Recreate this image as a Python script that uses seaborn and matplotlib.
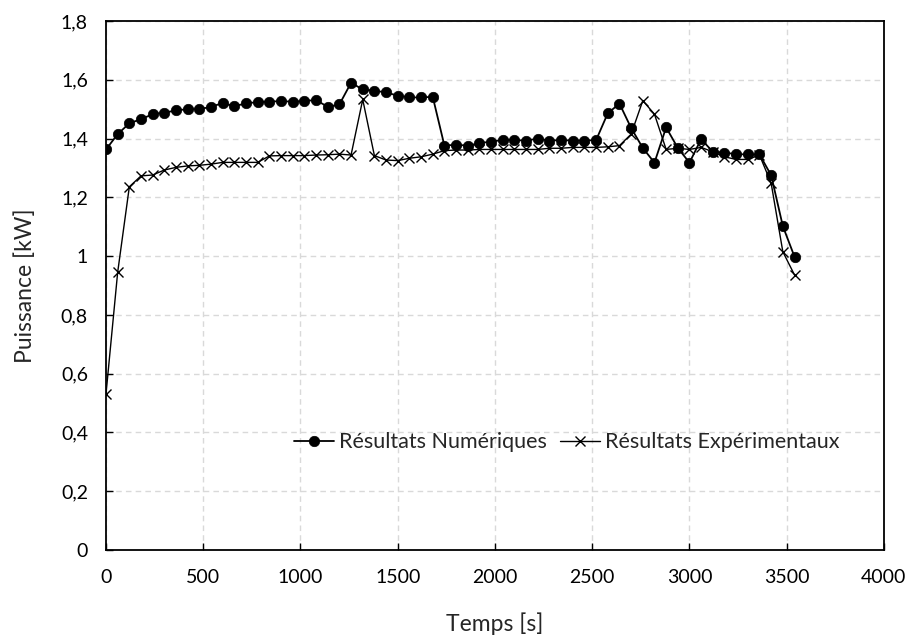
#!/usr/bin/env python3
"""
Puissance numérique vs expérimentale en fonction du temps.
Writes out.png (913x639).
"""

import matplotlib
matplotlib.use('Agg')
import matplotlib.pyplot as plt
from matplotlib.ticker import FuncFormatter, MultipleLocator
import seaborn as sns
import numpy as np

# time axis: one sample every 60 s, 0 .. 3540 s
temps = list(range(0, 3541, 60))

puissance_num = [
    1.363, 1.415, 1.452, 1.466, 1.483, 1.488, 1.496, 1.500, 1.500, 1.508,
    1.521, 1.510, 1.520, 1.524, 1.525, 1.528, 1.525, 1.528, 1.531, 1.508,
    1.516, 1.590, 1.567, 1.563, 1.557, 1.546, 1.540, 1.540, 1.542, 1.376,
    1.379, 1.376, 1.384, 1.390, 1.395, 1.395, 1.393, 1.400, 1.393, 1.395,
    1.393, 1.393, 1.395, 1.486, 1.519, 1.436, 1.368, 1.318, 1.438, 1.368,
    1.318, 1.398, 1.355, 1.352, 1.347, 1.346, 1.346, 1.275, 1.102, 0.998,
]

puissance_exp = [
    0.531, 0.945, 1.236, 1.273, 1.276, 1.293, 1.302, 1.307, 1.309, 1.313,
    1.319, 1.319, 1.319, 1.319, 1.341, 1.342, 1.342, 1.342, 1.344, 1.345,
    1.347, 1.344, 1.533, 1.342, 1.327, 1.325, 1.333, 1.338, 1.347, 1.359,
    1.361, 1.361, 1.363, 1.363, 1.363, 1.363, 1.363, 1.363, 1.367, 1.367,
    1.370, 1.370, 1.370, 1.372, 1.376, 1.415, 1.529, 1.483, 1.363, 1.367,
    1.363, 1.370, 1.355, 1.338, 1.329, 1.329, 1.344, 1.248, 1.015, 0.936,
]

label_num = 'Résultats Numériques'
label_exp = 'Résultats Expérimentaux'


def comma(v, pos):
    return f'{v:g}'.replace('.', ',')


def create_plot():
    sns.set_theme(style='white')
    plt.rcParams['font.family'] = ['Lato', 'DejaVu Sans']

    fig = plt.figure(figsize=(9.13, 6.39), dpi=100)
    ax = fig.add_axes([0.1161, 0.1393, 0.8521, 0.8278])

    sns.lineplot(x=temps, y=puissance_num, ax=ax, sort=False, color='black',
                 linewidth=1.3, marker='o', markersize=7.5,
                 markeredgecolor='black', markeredgewidth=0.5,
                 label=label_num)
    sns.lineplot(x=temps, y=puissance_exp, ax=ax, sort=False, color='black',
                 linewidth=1.0, marker='x', markersize=7.5,
                 markeredgecolor='black', markeredgewidth=1.0,
                 label=label_exp)

    ax.set_xlim(0, 4000)
    ax.set_ylim(0, 1.8)
    ax.xaxis.set_major_locator(MultipleLocator(500))
    ax.yaxis.set_major_locator(MultipleLocator(0.2))
    ax.yaxis.set_major_formatter(FuncFormatter(comma))

    ax.grid(True, color='#d9d9d9', linestyle=(0, (4, 3)), linewidth=1.0)
    for s in ax.spines.values():
        s.set_color('black')
        s.set_linewidth(1.3)
    ax.tick_params(direction='in', length=5, width=1.0, colors='black',
                   labelsize=14, bottom=True, left=True)
    ax.tick_params(axis='x', pad=14)
    ax.tick_params(axis='y', pad=13)

    ax.set_xlabel('Temps [s]', fontsize=16.5, labelpad=19)
    ax.set_ylabel('Puissance [kW]', fontsize=16.5, labelpad=18)

    ax.legend(loc='center left', bbox_to_anchor=(0.2275, 0.204), ncol=2,
              frameon=False, fontsize=15.5, handlelength=1.86,
              handletextpad=0.23, columnspacing=0.6, borderpad=0)

    fig.savefig('out.png', dpi=100)
    plt.close(fig)


if __name__ == '__main__':
    create_plot()
